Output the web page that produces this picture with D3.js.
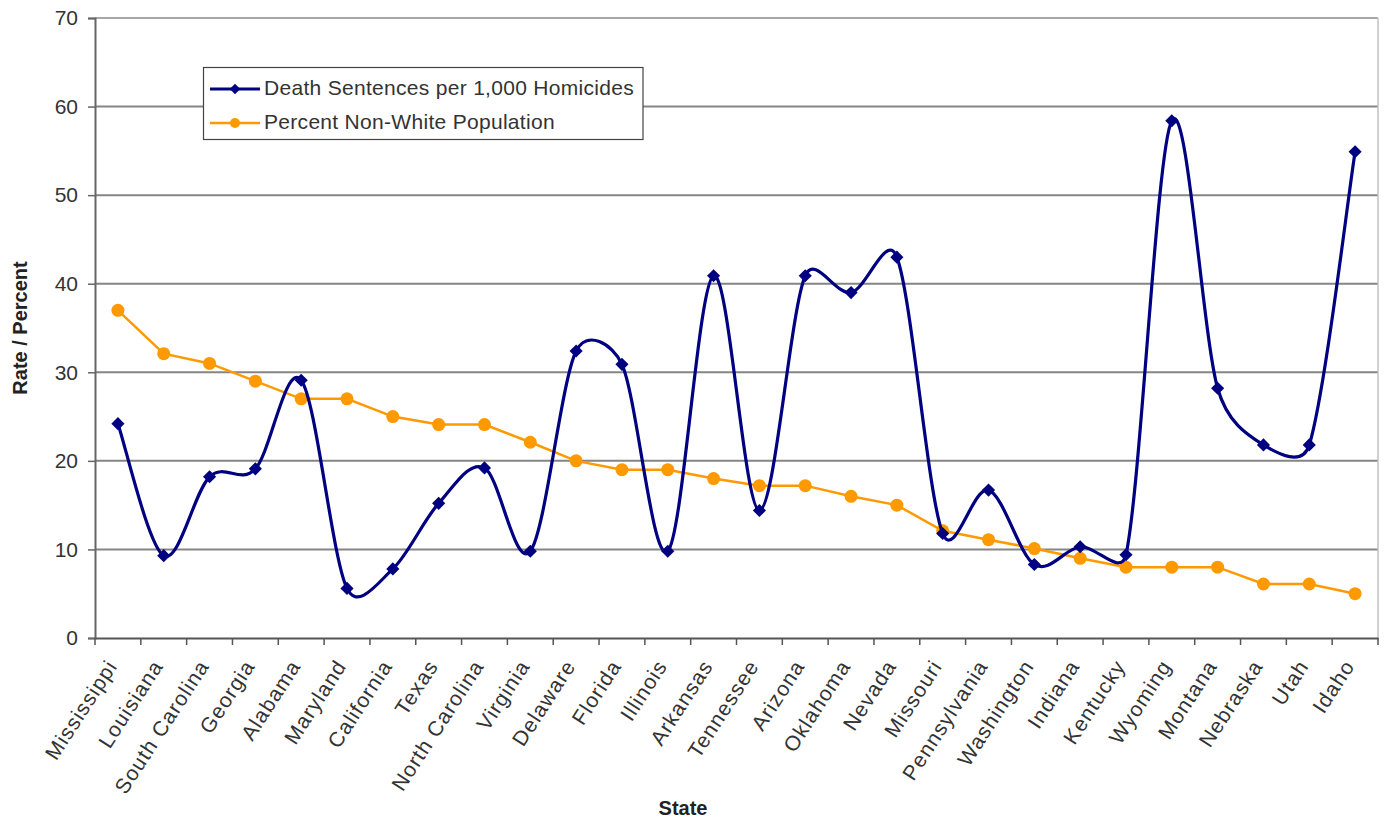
<!DOCTYPE html>
<html><head><meta charset="utf-8">
<script src="https://cdn.jsdelivr.net/npm/d3@7"></script>
<style>body{margin:0;background:#fff}svg{display:block}text{font-family:"Liberation Sans",Arial,sans-serif}</style>
</head><body>
<svg id="c" width="1389" height="821"></svg>
<script>
const states = ["Mississippi","Louisiana","South Carolina","Georgia","Alabama","Maryland","California","Texas","North Carolina","Virginia","Delaware","Florida","Illinois","Arkansas","Tennessee","Arizona","Oklahoma","Nevada","Missouri","Pennsylvania","Washington","Indiana","Kentucky","Wyoming","Montana","Nebraska","Utah","Idaho"];
const deathRate = [24.2,9.3,18.2,19.1,29.1,5.6,7.8,15.2,19.2,9.8,32.4,30.9,9.8,40.9,14.4,40.9,39.0,43.0,11.8,16.7,8.3,10.3,9.4,58.4,28.2,21.8,21.8,54.9];
const nonWhite = [37,32.1,31,29,27,27,25,24.1,24.1,22.1,20,19,19,18,17.2,17.2,16,15,12.1,11.1,10.1,9,8,8,8,6.1,6.1,5];
const yTicks = [0,10,20,30,40,50,60,70];
const seriesNames = ["Death Sentences per 1,000 Homicides","Percent Non-White Population"];

const svg = d3.select("#c");
const L=95,R=1378,T=18,B=638;
const x = d3.scaleBand().domain(states).range([L,R]);
const y = d3.scaleLinear().domain([0,70]).range([B,T]);
const cx = d => x(d)+x.bandwidth()/2;

// Excel-like smoothed line (Bezier, arms = 1/6 of neighbour chord, clamped to half segment)
function smoothPath(pts){
  const n=pts.length, p=d3.path();
  const dist=(a,b)=>Math.hypot(a[0]-b[0],a[1]-b[1]);
  const arm=(i,dir)=>{
    const P0=pts[Math.max(i-1,0)], P1=pts[i], P2=pts[Math.min(i+1,n-1)];
    const d02=dist(P0,P2); if(d02===0) return P1;
    const seg = dir>0 ? dist(P1,P2) : dist(P0,P1);
    const f = Math.min(1/6, seg/(2*d02));
    return [P1[0]+dir*f*(P2[0]-P0[0]), P1[1]+dir*f*(P2[1]-P0[1])];
  };
  p.moveTo(pts[0][0],pts[0][1]);
  for(let i=0;i<n-1;i++){
    const c1=arm(i,1), c2=arm(i+1,-1);
    p.bezierCurveTo(c1[0],c1[1],c2[0],c2[1],pts[i+1][0],pts[i+1][1]);
  }
  return p.toString();
}

// gridlines
svg.append("g").selectAll("line").data(yTicks.filter(t=>t>0)).join("line")
  .attr("x1",L).attr("x2",R).attr("y1",d=>y(d)).attr("y2",d=>y(d))
  .attr("stroke",d=>d===70?"#a8a8a8":"#858585").attr("stroke-width",2);
// right border
svg.append("line").attr("x1",R).attr("x2",R).attr("y1",T).attr("y2",B).attr("stroke","#c0c0c0").attr("stroke-width",1.5);

// y axis
const ya = svg.append("g").attr("transform",`translate(${L},0)`)
  .call(d3.axisLeft(y).tickValues(yTicks).tickSize(7).tickPadding(10));
ya.select(".domain").attr("stroke","#666").attr("stroke-width",2);
ya.selectAll(".tick line").attr("stroke","#666").attr("stroke-width",1.5);
ya.selectAll("text").attr("font-size",21).attr("fill","#333").attr("font-family","Liberation Sans, Arial");

// x axis
const xa = svg.append("g").attr("transform",`translate(0,${B})`)
  .call(d3.axisBottom(x).tickSize(0).tickFormat(""));
xa.select(".domain").attr("stroke","#555").attr("stroke-width",2);
xa.selectAll(".tick").remove();
const bounds = states.map(s=>x(s)).concat([R]);
svg.append("g").selectAll("line").data(bounds).join("line")
  .attr("x1",d=>d).attr("x2",d=>d).attr("y1",B).attr("y2",B+7)
  .attr("stroke","#555").attr("stroke-width",1.5);
svg.append("g").selectAll("text").data(states).join("text")
  .attr("transform",d=>`translate(${cx(d)-6},${B+24}) rotate(-57)`)
  .attr("text-anchor","end").attr("dominant-baseline","central")
  .attr("font-size",21).attr("letter-spacing",1.1).attr("fill","#333").text(d=>d);

// axis titles
svg.append("text").attr("transform",`translate(27,328) rotate(-90)`)
  .attr("text-anchor","middle").attr("font-size",20).attr("font-weight","bold").attr("fill","#222").text("Rate / Percent");
svg.append("text").attr("x",683).attr("y",815).attr("text-anchor","middle")
  .attr("font-size",20).attr("font-weight","bold").attr("fill","#222").text("State");

const blue="#000080", orange="#FF9900";
// orange series
svg.append("path").datum(nonWhite).attr("fill","none").attr("stroke",orange).attr("stroke-width",2.5)
  .attr("d",d3.line().x((d,i)=>cx(states[i])).y(d=>y(d)));
svg.append("g").selectAll("circle").data(nonWhite).join("circle")
  .attr("cx",(d,i)=>cx(states[i])).attr("cy",d=>y(d)).attr("r",6.5).attr("fill",orange);

// blue series
const bluePts = deathRate.map((d,i)=>[cx(states[i]), y(d)]);
svg.append("path").attr("fill","none").attr("stroke",blue).attr("stroke-width",3.2)
  .attr("d",smoothPath(bluePts));
const diamond = d3.symbol().type(d3.symbolDiamond2).size(110);
svg.append("g").selectAll("path").data(deathRate).join("path")
  .attr("transform",(d,i)=>`translate(${cx(states[i])},${y(d)})`).attr("d",diamond).attr("fill",blue);

// legend
const lg = svg.append("g");
lg.append("rect").attr("x",203.5).attr("y",67.5).attr("width",439.5).attr("height",72)
  .attr("fill","#fff").attr("stroke","#444").attr("stroke-width",1.2);
const entries=[{n:seriesNames[0],c:blue,t:"d"},{n:seriesNames[1],c:orange,t:"c"}];
entries.forEach((e,i)=>{
  const yy = 89+i*34;
  lg.append("line").attr("x1",210).attr("x2",260).attr("y1",yy).attr("y2",yy).attr("stroke",e.c).attr("stroke-width",e.t==="d"?3:2.5);
  if(e.t==="d") lg.append("path").attr("transform",`translate(235,${yy})`).attr("d",d3.symbol().type(d3.symbolDiamond2).size(70)).attr("fill",e.c);
  else lg.append("circle").attr("cx",235).attr("cy",yy).attr("r",5).attr("fill",e.c);
  lg.append("text").attr("x",264).attr("y",yy+6).attr("font-size",21).attr("letter-spacing",0.3).attr("fill","#333").text(e.n);
});
</script>
</body></html>
